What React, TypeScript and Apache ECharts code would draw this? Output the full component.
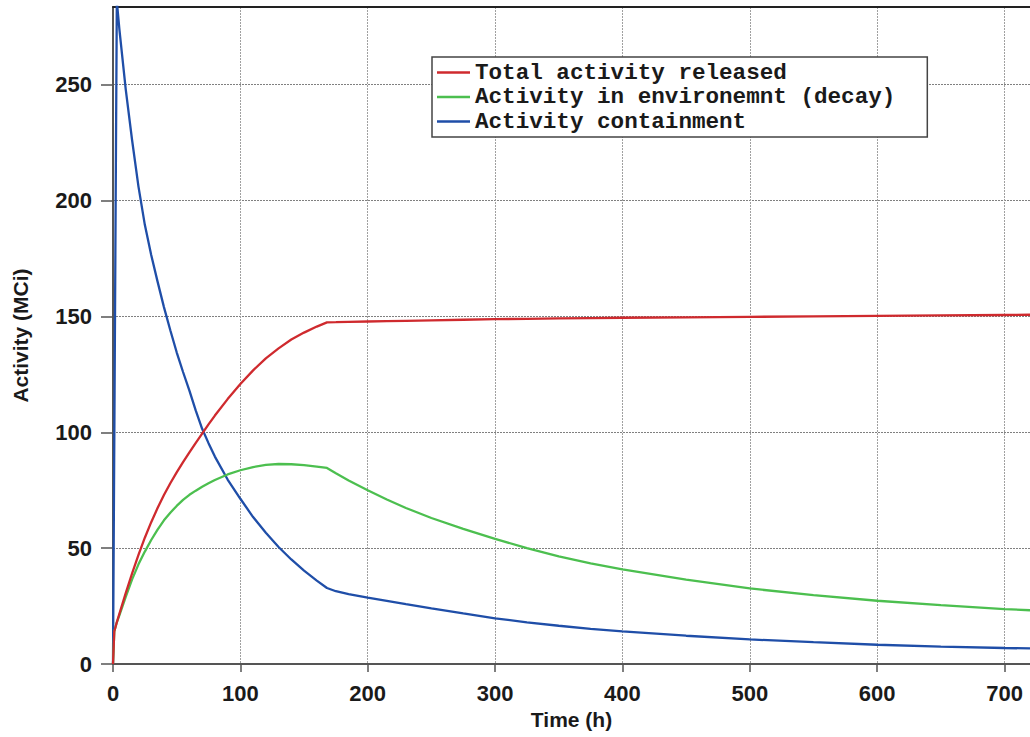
import React, { useEffect, useRef } from "react";
import * as echarts from "echarts";

const times = [0, 1, 3, 5, 10, 15, 20, 25, 30, 35, 40, 45, 50, 55, 60, 65, 70, 75, 80, 90, 100, 110, 120, 130, 140, 150, 160, 168, 175, 185, 200, 215, 230, 250, 275, 300, 325, 350, 375, 400, 450, 500, 550, 600, 650, 700, 720];

const totalReleased = [0, 14, 18, 21.6, 30.6, 39.1, 47.1, 54.5, 61.2, 67.3, 72.9, 78, 82.7, 87.1, 91.3, 95.4, 99.4, 103.4, 107.2, 114.3, 120.8, 126.7, 131.9, 136.2, 140.0, 143.0, 145.6, 147.4, 147.5, 147.65, 147.8, 147.95, 148.1, 148.3, 148.55, 148.8, 148.95, 149.1, 149.25, 149.4, 149.6, 149.8, 150.0, 150.2, 150.4, 150.6, 150.7];

const environment = [0, 14, 18, 21, 29, 36.5, 43, 48.5, 53.5, 58, 62, 65.3, 68.2, 70.8, 73, 74.8, 76.5, 78.0, 79.4, 81.8, 83.6, 85, 85.9, 86.3, 86.2, 85.8, 85.2, 84.6, 82.3, 79.2, 75.0, 71.0, 67.3, 63.0, 58.3, 54.0, 50.0, 46.4, 43.4, 40.8, 36.4, 32.6, 29.7, 27.3, 25.4, 23.7, 23.2];

const containment = [0, 95, 286, 274, 248, 226, 206, 189.5, 176.5, 165, 154, 144, 134.5, 126, 118, 109.3, 101.5, 95.3, 89.5, 79.6, 71.3, 63.4, 56.6, 50.5, 45.1, 40.3, 36, 32.8, 31.4, 30.2, 28.6, 27.2, 25.8, 24.0, 21.8, 19.7, 18.0, 16.5, 15.2, 14.1, 12.2, 10.6, 9.4, 8.3, 7.5, 6.9, 6.7];

const seriesNames = [
  "Total activity released",
  "Activity in environemnt (decay)",
  "Activity containment",
];
const seriesColors = ["#cf2a2e", "#4cbf4f", "#1f4ea8"];

export default function App() {
  const ref = useRef<HTMLDivElement>(null);
  useEffect(() => {
    document.body.style.margin = "0";
    if (!ref.current) return;
    const chart = echarts.init(ref.current, null, { renderer: "svg" });
    const values = [totalReleased, environment, containment];
    const labelFont = {
      fontFamily: "Liberation Sans, Arial, sans-serif",
      fontWeight: "bold" as const,
      fontSize: 22,
      color: "#1a1a1a",
    };
    chart.setOption({
      animation: false,
      backgroundColor: "#ffffff",
      grid: { left: 113, top: 7, width: 920, height: 657, containLabel: false },
      legend: {
        show: true,
        orient: "vertical",
        left: 432,
        top: 57,
        padding: [4, 32, 4, 5],
        itemGap: 1.5,
        itemWidth: 33,
        itemHeight: 2.5,
        icon: "rect",
        backgroundColor: "#ffffff",
        borderColor: "#444444",
        borderWidth: 1.5,
        borderRadius: 0,
        textStyle: {
          fontFamily: "Liberation Mono, Courier New, monospace",
          fontWeight: "bold",
          fontSize: 22.6,
          color: "#1a1a1a",
          lineHeight: 22,
        },
        data: seriesNames,
      },
      xAxis: [
        {
          type: "value",
          min: 0,
          max: 720,
          interval: 100,
          name: "Time (h)",
          nameLocation: "middle",
          nameGap: 44,
          nameTextStyle: { ...labelFont, fontSize: 21 },
          axisLine: { show: true, onZero: false, lineStyle: { color: "#555555", width: 2 } },
          axisTick: { show: true, length: 8, inside: false, lineStyle: { color: "#555555", width: 1.5 } },
          axisLabel: { ...labelFont, margin: 18, showMaxLabel: false },
          splitLine: { show: true, lineStyle: { color: "#a0a0a0", width: 1, type: [2, 1] } },
        },
        {
          type: "value",
          position: "top",
          min: 0,
          max: 720,
          axisLine: { show: true, onZero: false, lineStyle: { color: "#222222", width: 2 } },
          axisTick: { show: false },
          axisLabel: { show: false },
          splitLine: { show: false },
        },
      ],
      yAxis: {
        type: "value",
        min: 0,
        max: 283.5,
        interval: 50,
        name: "Activity (MCi)",
        nameLocation: "middle",
        nameGap: 82,
        nameTextStyle: { ...labelFont, fontSize: 21 },
        axisLine: { show: true, onZero: false, lineStyle: { color: "#555555", width: 2 } },
        axisTick: { show: true, length: 12, inside: false, lineStyle: { color: "#555555", width: 1.5 } },
        axisLabel: { ...labelFont, margin: 21, showMaxLabel: false },
        splitLine: { show: true, lineStyle: { color: "#808080", width: 1, type: [2, 1] } },
      },
      series: seriesNames.map((name, k) => ({
        name,
        type: "line",
        xAxisIndex: 0,
        data: times.map((t, i) => [t, values[k][i]]),
        showSymbol: false,
        symbol: "none",
        smooth: false,
        clip: true,
        color: seriesColors[k],
        lineStyle: { color: seriesColors[k], width: 2.3 },
        z: 5 - k,
      })),
    });
    return () => chart.dispose();
  }, []);
  return <div ref={ref} style={{ width: 1030, height: 737 }} />;
}
